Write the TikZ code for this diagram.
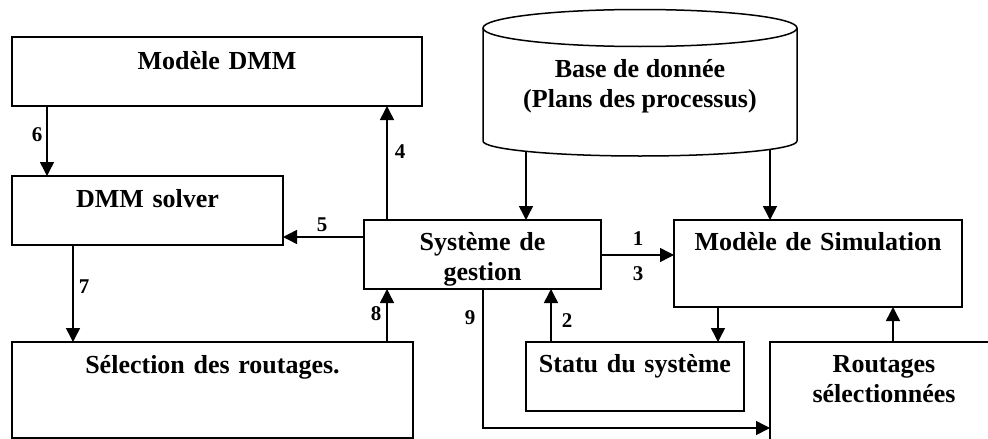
\documentclass[tikz,border=0pt]{standalone}
\usepackage{fontspec}
\setmainfont{Liberation Serif}
\usetikzlibrary{arrows.meta}

\begin{document}
\begin{tikzpicture}[x=1pt, y=-1pt,
  txt/.style={font=\fontsize{26}{30}\selectfont\bfseries},
  box/.style={txt, draw, line width=1.5pt, inner sep=0pt, outer sep=0pt,
              align=center, anchor=north west},
  num/.style={font=\fontsize{21}{24}\selectfont\bfseries, inner sep=0pt},
  arr/.style={line width=1.5pt, -{Triangle[length=14pt,width=14pt]}},
  edge/.style={line width=1.5pt}
]
\useasboundingbox (0,0) rectangle (988,439);
\clip (0,0) rectangle (988,439);

% boxes
\node[box, text width=410pt, text height=32pt, text depth=37pt] (dmm) at (12,37) {Modèle DMM};
\node[box, text width=271pt, text height=31pt, text depth=38pt] (solver) at (12,176) {DMM solver};
\node[box, text width=401pt, text height=31pt, text depth=65pt] (sel) at (12,342) {Sélection des routages.};
\node[box, text width=237pt, text height=30pt, text depth=39pt] (gest) at (364,220) {Système de\\gestion};
\node[box, text width=288pt, text height=30pt, text depth=57pt] (sim) at (674,220) {Modèle de Simulation};
\node[box, text width=218pt, text height=30pt, text depth=39pt] (statu) at (526,342) {Statu du système};
\node[box, text width=228pt, text height=30pt, text depth=120pt] (rout) at (770,342) {Routages\\sélectionnées};

% database cylinder
\draw[edge] (640,28) ellipse [x radius=157, y radius=18.5];
\draw[edge] (483,28) -- (483,141) arc[start angle=180, end angle=0, x radius=157, y radius=15] -- (797,28);
\node[txt, align=center, anchor=base] (db) at (640,107) {Base de donnée\\(Plans des processus)};
\coordinate (dbL) at (526,151);
\coordinate (dbR) at (770,149);

% connectors
\draw[arr] (47,0 |- dmm.south) -- (47,0 |- solver.north);
\draw[arr] (387,0 |- gest.north) -- (387,0 |- dmm.south);
\draw[arr] (gest.west |- 0,237) -- (solver.east |- 0,237);
\draw[arr] (73,0 |- solver.south) -- (73,0 |- sel.north);
\draw[arr] (387,0 |- sel.north) -- (387,0 |- gest.south);
\draw[arr] (483,0 |- gest.south) |- (rout.west |- 0,428);
\draw[arr] (dbL) -- (dbL |- gest.north);
\draw[arr] (dbR) -- (dbR |- sim.north);
\draw[arr] (gest.east |- 0,255) -- (sim.west |- 0,255);
\draw[arr] (551,0 |- statu.north) -- (551,0 |- gest.south);
\draw[arr] (718,0 |- sim.south) -- (718,0 |- statu.north);
\draw[arr] (893,0 |- rout.north) -- (893,0 |- sim.south);

% connector labels
\node[num] (n6) at (37,135) {6};
\node[num] (n4) at (400,152) {4};
\node[num] (n5) at (322,225) {5};
\node[num] (n7) at (84,287) {7};
\node[num] (n8) at (376,314) {8};
\node[num] (n9) at (470,318) {9};
\node[num] (n1) at (638,239) {1};
\node[num] (n3) at (638,274) {3};
\node[num] (n2) at (567,321) {2};
\end{tikzpicture}
\end{document}
